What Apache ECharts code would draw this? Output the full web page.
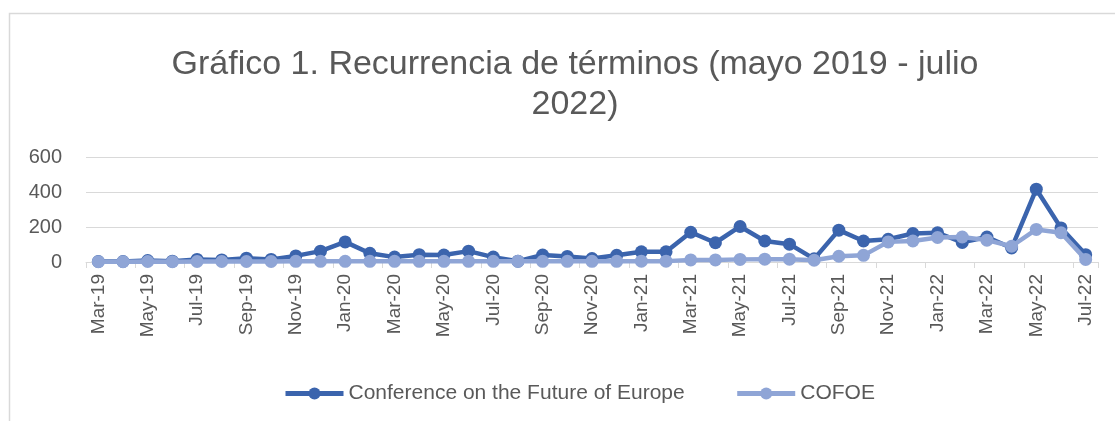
<!DOCTYPE html>
<html>
<head>
<meta charset="utf-8">
<script src="https://cdn.jsdelivr.net/npm/echarts@6/dist/echarts.min.js"></script>
<style>
  html, body { margin: 0; padding: 0; background: #fff; }
  #chart { width: 1115px; height: 421px; }
</style>
</head>
<body>
<div id="chart"></div>
<script>
// monthly, Mar-19 .. Jul-22
const months = [
  "Mar-19", "Apr-19", "May-19", "Jun-19", "Jul-19", "Aug-19", "Sep-19", "Oct-19", "Nov-19", "Dec-19",
  "Jan-20", "Feb-20", "Mar-20", "Apr-20", "May-20", "Jun-20", "Jul-20", "Aug-20", "Sep-20", "Oct-20",
  "Nov-20", "Dec-20", "Jan-21", "Feb-21", "Mar-21", "Apr-21", "May-21", "Jun-21", "Jul-21", "Aug-21",
  "Sep-21", "Oct-21", "Nov-21", "Dec-21", "Jan-22", "Feb-22", "Mar-22", "Apr-22", "May-22", "Jun-22",
  "Jul-22"
];
const conference = [
  3, 3, 8, 5, 15, 12, 22, 15, 35, 62,
  115, 50, 28, 42, 40, 62, 28, 5, 40, 32,
  20, 38, 58, 58, 170, 110, 203, 120, 102, 18,
  182, 120, 130, 163, 167, 112, 143, 80, 416, 195,
  42
];
const cofoe = [
  2, 2, 3, 2, 3, 3, 3, 3, 4, 4,
  4, 4, 4, 4, 4, 4, 4, 4, 4, 4,
  4, 4, 5, 5, 12, 12, 15, 16, 16, 10,
  33, 38, 115, 120, 140, 143, 125, 90, 186, 167,
  15
];
const yTicks = [0, 200, 400, 600];

const darkBlue = "#3B64AD";
const lightBlue = "#8FA5D6";
const textGray = "#595959";
const font = "Liberation Sans";

const chart = echarts.init(document.getElementById("chart"));

const option = {
  backgroundColor: "#fff",
  animation: false,
  title: {
    text: "Gráfico 1. Recurrencia de términos (mayo 2019 - julio\n2022)",
    left: 570,
    top: 40,
    textAlign: "center",
    textStyle: {
      color: textGray,
      fontFamily: font,
      fontWeight: "normal",
      fontSize: 34,
      lineHeight: 40
    }
  },
  graphic: [
    {
      type: "rect",
      shape: { x: 9.5, y: 13.5, width: 1120, height: 440 },
      style: { fill: "none", stroke: "#d9d9d9", lineWidth: 1.5 },
      silent: true
    }
  ],
  legend: {
    bottom: 12,
    left: 278,
    itemWidth: 58,
    itemHeight: 15,
    itemGap: 50,
    lineStyle: { width: 5 },
    textStyle: { color: textGray, fontFamily: font, fontSize: 21 },
    data: ["Conference on the Future of Europe", "COFOE"]
  },
  grid: {
    left: 86,
    right: 17,
    top: 157,
    bottom: 159
  },
  xAxis: {
    type: "category",
    data: months,
    boundaryGap: true,
    axisLine: { lineStyle: { color: "#d9d9d9", width: 1 } },
    axisTick: { show: true, interval: 1, length: 6, lineStyle: { color: "#d9d9d9" } },
    axisLabel: {
      interval: 1,
      rotate: 90,
      color: textGray,
      fontFamily: font,
      fontSize: 19,
      margin: 12
    }
  },
  yAxis: {
    type: "value",
    min: yTicks[0],
    max: yTicks[yTicks.length - 1],
    interval: 200,
    axisLine: { show: false },
    axisTick: { show: false },
    splitLine: { lineStyle: { color: "#d9d9d9", width: 1 } },
    axisLabel: {
      color: textGray,
      fontFamily: font,
      fontSize: 20,
      margin: 24
    }
  },
  series: [
    {
      name: "Conference on the Future of Europe",
      type: "line",
      data: conference,
      symbol: "circle",
      symbolSize: 13,
      color: darkBlue,
      lineStyle: { width: 4.5, color: darkBlue },
      itemStyle: { color: darkBlue },
      z: 2
    },
    {
      name: "COFOE",
      type: "line",
      data: cofoe,
      symbol: "circle",
      symbolSize: 13,
      color: lightBlue,
      lineStyle: { width: 4.5, color: lightBlue },
      itemStyle: { color: lightBlue },
      z: 3
    }
  ]
};

chart.setOption(option);
</script>
</body>
</html>
